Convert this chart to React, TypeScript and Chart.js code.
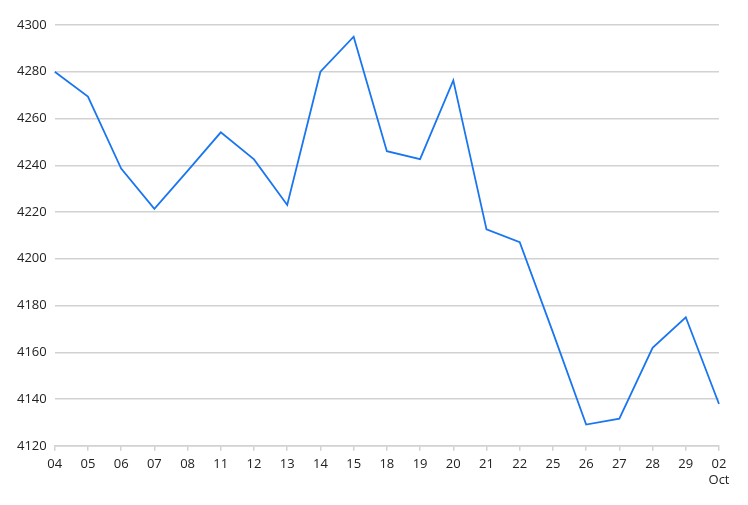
import React, { useEffect, useRef } from 'react';
import Chart from 'chart.js/auto';

const days: (string | string[])[] = [
  '04', '05', '06', '07', '08', '11', '12', '13', '14', '15',
  '18', '19', '20', '21', '22', '25', '26', '27', '28', '29', ['02', 'Oct'],
];

const closeValues = [
  4280, 4269.4, 4238.6, 4221.4, 4237.6, 4254.1, 4242.5, 4223, 4280, 4295,
  4246, 4242.6, 4276.3, 4212.6, 4207.1, 4168.5, 4129.1, 4131.6, 4161.9, 4175, 4137.9,
];

const yMin = 4120;
const yMax = 4300;
const yStep = 20;

const gridColor = '#d2d2d2';
const textColor = '#222222';

const App: React.FC = () => {
  const chartRef = useRef<HTMLCanvasElement>(null);

  useEffect(() => {
    document.body.style.margin = '0';
    if (!chartRef.current) return;
    const ctx = chartRef.current.getContext('2d');
    if (!ctx) return;

    const chart = new Chart(ctx, {
      type: 'line',
      data: {
        labels: days,
        datasets: [
          {
            data: closeValues,
            borderColor: '#1a76f0',
            borderWidth: 1.8,
            pointRadius: 0,
            fill: false,
            tension: 0,
          },
        ],
      },
      options: {
        animation: false,
        responsive: false,
        maintainAspectRatio: false,
        layout: { padding: { left: 9, right: 29, top: 25, bottom: 11 } },
        plugins: {
          legend: { display: false },
          tooltip: { enabled: false },
        },
        scales: {
          x: {
            offset: false,
            grid: {
              drawOnChartArea: false,
              drawTicks: true,
              tickLength: 5,
              color: gridColor,
              lineWidth: 1.5,
            },
            border: { color: gridColor, width: 1.5 },
            ticks: {
              autoSkip: false,
              maxRotation: 0,
              padding: 6,
              color: textColor,
              font: { family: 'Open Sans', size: 13 },
            },
          },
          y: {
            min: yMin,
            max: yMax,
            grid: { drawTicks: false, color: gridColor, lineWidth: 1.5 },
            border: { display: false },
            ticks: {
              stepSize: yStep,
              padding: 8,
              color: textColor,
              font: { family: 'Open Sans', size: 13 },
              callback: (v) => String(v),
            },
          },
        },
      },
    });

    return () => {
      chart.destroy();
    };
  }, []);

  return (
    <div style={{ width: 748, height: 505, background: '#fff' }}>
      <canvas ref={chartRef} width={748} height={505} />
    </div>
  );
};

export default App;
